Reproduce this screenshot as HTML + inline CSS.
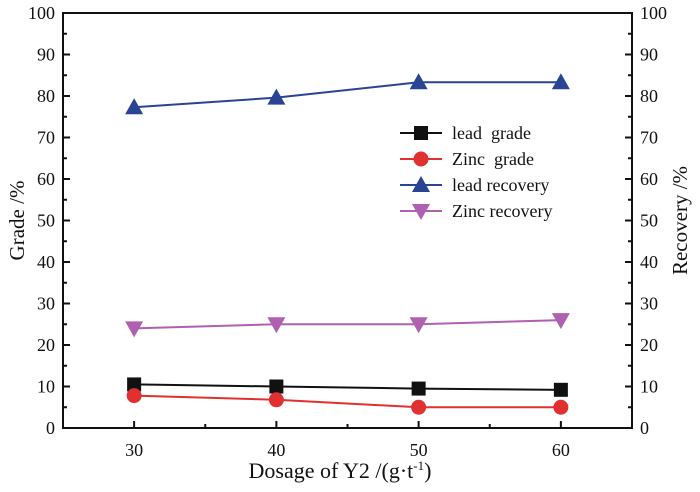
<!DOCTYPE html>
<html><head><meta charset="utf-8"><style>
body{margin:0;background:#fff}
text{font-family:"Liberation Serif",serif;fill:#111}
</style></head><body>
<svg id="chart" width="700" height="487" viewBox="0 0 700 487" xmlns="http://www.w3.org/2000/svg">
<g id="axes"></g><g id="series"></g><g id="legend"></g>
</svg>
<script>
const categories=[30,40,50,60];
const leadGrade=[10.5,10.0,9.5,9.2];
const zincGrade=[7.8,6.8,5.0,5.0];
const leadRecovery=[77.3,79.6,83.3,83.3];
const zincRecovery=[24.0,25.0,25.0,26.0];
const yTicks=[0,10,20,30,40,50,60,70,80,90,100];
const xTicks=[30,40,50,60];
const NS="http://www.w3.org/2000/svg";
const L=63,R=632,T=13,B=428;
const xs=v=>L+(v-25)/40*(R-L);
const ys=v=>B-v/100*(B-T);
function mk(tag,attrs,parent){const e=document.createElementNS(NS,tag);for(const k in attrs)e.setAttribute(k,attrs[k]);parent.appendChild(e);return e;}
const ax=document.getElementById('axes');
const frame=mk('rect',{x:L,y:T,width:R-L,height:B-T,fill:'none',stroke:'#111','stroke-width':2},ax);


for(let v=0;v<=100;v+=5){
  const len=v%10===0?7:4;
  mk('line',{x1:L,x2:L+len,y1:ys(v),y2:ys(v),stroke:'#111','stroke-width':2},ax);
  mk('line',{x1:R,x2:R-len,y1:ys(v),y2:ys(v),stroke:'#111','stroke-width':2},ax);
}
yTicks.forEach(v=>{
  const t1=mk('text',{x:L-8,y:ys(v)+6,'text-anchor':'end','font-size':18},ax);t1.textContent=v;
  
  
  const t2=mk('text',{x:R+8,y:ys(v)+6,'text-anchor':'start','font-size':18},ax);t2.textContent=v;
  
  
});
for(let v=30;v<=60;v+=5){
  const len=v%10===0?7:4;
  mk('line',{x1:xs(v),x2:xs(v),y1:B,y2:B-len,stroke:'#111','stroke-width':2},ax);
}
xTicks.forEach(v=>{
  const t=mk('text',{x:xs(v),y:B+28,'text-anchor':'middle','font-size':18},ax);t.textContent=v;
  
  
});
const xt=mk('text',{x:340,y:478,'text-anchor':'middle','font-size':22},ax);
xt.innerHTML='Dosage of Y2 /(g·t<tspan dy="-8" font-size="13">-1</tspan><tspan dy="8">)</tspan>';


const yl=mk('text',{x:0,y:0,'text-anchor':'middle','font-size':21,transform:`translate(24,${(T+B)/2}) rotate(-90)`},ax);
yl.textContent='Grade /%';


const yr=mk('text',{x:0,y:0,'text-anchor':'middle','font-size':21,transform:`translate(687,${(T+B)/2}) rotate(-90)`},ax);
yr.textContent='Recovery /%';



function marker(type,x,y,color,parent){
  let e;
  if(type==='square')e=mk('rect',{x:x-7,y:y-7,width:14,height:14,fill:color},parent);
  else if(type==='circle')e=mk('circle',{cx:x,cy:y,r:7.5,fill:color},parent);
  else if(type==='up')e=mk('polygon',{points:`${x},${y-9} ${x-9},${y+7} ${x+9},${y+7}`,fill:color},parent);
  else e=mk('polygon',{points:`${x},${y+9} ${x-9},${y-7} ${x+9},${y-7}`,fill:color},parent);
  return e;
}
const series=[
  {name:'lead\u00a0 grade',vals:leadGrade,color:'#111111',m:'square',id:'lead-grade'},
  {name:'Zinc\u00a0 grade',vals:zincGrade,color:'#e03030',m:'circle',id:'zinc-grade'},
  {name:'lead recovery',vals:leadRecovery,color:'#2a4494',m:'up',id:'lead-recovery'},
  {name:'Zinc recovery',vals:zincRecovery,color:'#b060b0',m:'down',id:'zinc-recovery'}
];
const sg=document.getElementById('series');
const lg=document.getElementById('legend');
series.forEach((s,i)=>{
  const g=mk('g',{},sg);
  
  
  const pl=mk('polyline',{points:s.vals.map((v,j)=>xs(categories[j])+','+ys(v)).join(' '),fill:'none',stroke:s.color,'stroke-width':2},g);
  
  
  s.vals.forEach((v,j)=>{
    const m=marker(s.m,xs(categories[j]),ys(v),s.color,g);
    
    
  });
  const ly=133+i*26;
  const le=mk('g',{},lg);
  
  
  mk('line',{x1:400,x2:442,y1:ly,y2:ly,stroke:s.color,'stroke-width':2},le);
  marker(s.m,421,ly,s.color,le);
  const t=mk('text',{x:452,y:ly+6,'font-size':18},le);t.textContent=s.name;
});
</script>
</body></html>
